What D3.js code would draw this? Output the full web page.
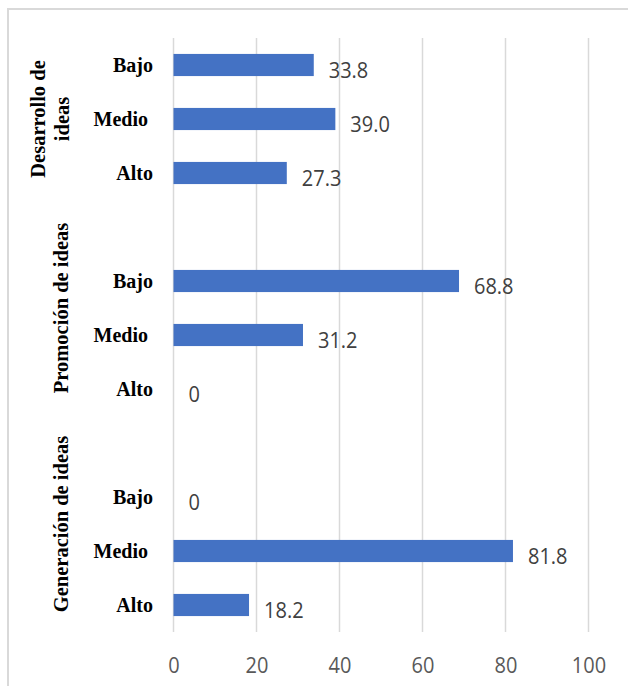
<!DOCTYPE html>
<html>
<head>
<meta charset="utf-8">
<script src="https://cdn.jsdelivr.net/npm/d3@7"></script>
<style>
  html, body { margin: 0; padding: 0; background: #fff; }
  svg { display: block; }
</style>
</head>
<body>
<svg id="chart" width="628" height="686"></svg>
<script>
// data
const groupLabels = [["Desarrollo de", "ideas"], ["Promoción de ideas"], ["Generación de ideas"]];
const levels = ["Bajo", "Medio", "Alto"];
const desarrollo = [33.8, 39.0, 27.3];
const promocion = [68.8, 31.2, 0];
const generacion = [0, 81.8, 18.2];
const xTicks = [0, 20, 40, 60, 80, 100];

const seriesByGroup = [desarrollo, promocion, generacion];

const svg = d3.select("#chart");
const margin = { top: 38, left: 173.5, right: 39.5, bottom: 54 };
const width = +svg.attr("width") - margin.left - margin.right;
const height = +svg.attr("height") - margin.top - margin.bottom;
const sansFont = "'Open Sans', 'Liberation Sans', sans-serif";
const serifFont = "'Liberation Serif', 'Times New Roman', serif";

// outer frame (runs off the right / bottom edge like the reference)
svg.append("rect")
    .attr("x", 8).attr("y", 9)
    .attr("width", 700).attr("height", 700)
    .attr("fill", "none")
    .attr("stroke", "#d9d9d9")
    .attr("stroke-width", 2);

// build rows: an empty slot before every group but the first
const rows = [];
const slotKeys = [];
seriesByGroup.forEach((vals, gi) => {
    if (gi > 0) slotKeys.push("gap" + gi);
    levels.forEach((lv, li) => {
        const key = gi + "-" + lv;
        slotKeys.push(key);
        rows.push({ key, group: gi, level: lv, value: vals[li] });
    });
});

const x = d3.scaleLinear().domain([0, 100]).range([0, width]);
const y = d3.scaleBand()
    .domain(slotKeys)
    .range([0, height])
    .paddingInner(0.59)
    .paddingOuter(0.295);

const chart = svg.append("g")
    .attr("transform", `translate(${margin.left}, ${margin.top})`);

// vertical gridlines
chart.append("g")
    .selectAll("line")
    .data(xTicks)
    .join("line")
    .attr("x1", d => x(d)).attr("x2", d => x(d))
    .attr("y1", 0).attr("y2", height)
    .attr("stroke", "#d9d9d9")
    .attr("stroke-width", 1.5);

// bottom tick labels (no axis line)
const xAxis = chart.append("g")
    .attr("transform", `translate(0, ${height})`)
    .call(d3.axisBottom(x).tickValues(xTicks).tickSize(0).tickPadding(0));
xAxis.select(".domain").remove();
xAxis.selectAll("text")
    .attr("y", 0)
    .attr("dy", 0)
    .attr("transform", "translate(0, 41) scale(1, 1.08)")
    .attr("fill", "#595959")
    .style("font-family", sansFont)
    .style("font-size", "20px");

// bars
chart.append("g")
    .selectAll("rect")
    .data(rows)
    .join("rect")
    .attr("x", x(0))
    .attr("y", d => y(d.key))
    .attr("width", d => x(d.value) - x(0))
    .attr("height", y.bandwidth())
    .attr("fill", "#4472c4");

// value labels
chart.append("g")
    .selectAll("text")
    .data(rows)
    .join("text")
    .attr("transform", d =>
        `translate(${x(d.value) + 15}, ${y(d.key) + y.bandwidth() / 2 + 12.8}) scale(1, 1.12)`)
    .attr("fill", "#404040")
    .style("font-family", sansFont)
    .style("font-size", "20px")
    .text(d => d.value === 0 ? "0" : d.value.toFixed(1));

// level labels
chart.append("g")
    .selectAll("text")
    .data(rows)
    .join("text")
    .attr("x", d => 153 - margin.left - (d.level === "Medio" ? 5 : 0))
    .attr("y", d => y(d.key) + y.bandwidth() / 2 + 6.7)
    .attr("text-anchor", "end")
    .attr("fill", "#000")
    .style("font-family", serifFont)
    .style("font-weight", "bold")
    .style("font-size", "20px")
    .text(d => d.level);

// rotated group labels, centred on their slots (incl. leading gap)
groupLabels.forEach((lines, gi) => {
    const keys = slotKeys.filter(k => k === "gap" + gi || k.startsWith(gi + "-"));
    const top = y(keys[0]);
    const bottom = y(keys[keys.length - 1]) + y.bandwidth();
    const cy = margin.top + (top + bottom) / 2;
    const bx = lines.length > 1 ? 45 : 68;
    const t = svg.append("text")
        .attr("transform", `translate(${bx}, ${cy}) rotate(-90)`)
        .attr("text-anchor", "middle")
        .attr("fill", "#000")
        .style("font-family", serifFont)
        .style("font-weight", "bold")
        .style("font-size", "20.5px");
    lines.forEach((ln, i) => {
        t.append("tspan").attr("x", 0).attr("y", i * 24).text(ln);
    });
});
</script>
</body>
</html>
